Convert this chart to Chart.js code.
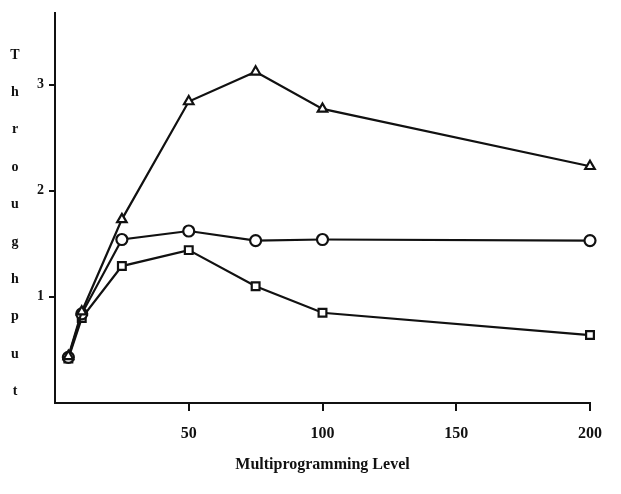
<!DOCTYPE html>
<html>
<head>
<meta charset="utf-8">
<script src="https://cdn.jsdelivr.net/npm/chart.js@4"></script>
<style>
  html, body { margin: 0; padding: 0; background: #fff; }
  #wrap { width: 621px; height: 494px; }
</style>
</head>
<body>
<div id="wrap"><canvas id="c" width="621" height="494"></canvas></div>
<script>
// ---- data ----
const levels = [5, 10, 25, 50, 75, 100, 200];
const triangleSeries = [0.44, 0.86, 1.73, 2.84, 3.12, 2.77, 2.23];
const circleSeries   = [0.43, 0.84, 1.54, 1.62, 1.53, 1.54, 1.53];
const squareSeries   = [0.42, 0.80, 1.29, 1.44, 1.10, 0.85, 0.64];
const xTicks = [50, 100, 150, 200];
const yTicks = [1, 2, 3];
const yTitleLetters = ['T','h','r','o','u','g','h','p','u','t'];
const xTitle = 'Multiprogramming Level';

const toPts = (ys) => levels.map((x, i) => ({x: x, y: ys[i]}));

const ink = '#111';
const serif = "'Liberation Serif', 'DejaVu Serif', serif";

const stackedTitle = {
  id: 'stackedTitle',
  afterDraw(chart) {
    const ctx = chart.ctx;
    ctx.save();
    ctx.fillStyle = ink;
    ctx.font = "bold 14px " + serif;
    ctx.textAlign = 'center';
    ctx.textBaseline = 'middle';
    const top = 55, step = 37.4;
    yTitleLetters.forEach((ch, i) => ctx.fillText(ch, 15, top + i * step));
    ctx.restore();
  }
};

const mk = (data, style) => ({
  data: toPts(data),
  borderColor: ink,
  borderWidth: 2.2,
  pointStyle: style,
  pointRadius: 5.5,
  pointBorderWidth: 2.2,
  pointBorderColor: ink,
  pointBackgroundColor: '#fff',
  tension: 0,
  fill: false,
  clip: false
});

new Chart(document.getElementById('c'), {
  type: 'line',
  data: {
    datasets: [
      mk(triangleSeries, 'triangle'),
      mk(circleSeries, 'circle'),
      mk(squareSeries, 'rect')
    ]
  },
  plugins: [stackedTitle],
  options: {
    responsive: false,
    animation: false,
    events: [],
    layout: { padding: { left: 0, right: 31, top: 10, bottom: 0 } },
    plugins: { legend: { display: false }, tooltip: { enabled: false } },
    scales: {
      x: {
        type: 'linear',
        min: 0, max: 200,
        afterBuildTicks: (s) => { s.ticks = xTicks.map(v => ({value: v})); },
        afterFit: (s) => { s.height = 91; },
        grid: { drawOnChartArea: false, drawTicks: true, tickLength: 8, color: ink, lineWidth: 2 },
        border: { display: true, color: ink, width: 2 },
        ticks: { color: ink, padding: 13, maxRotation: 0, font: { family: serif, size: 16, weight: 'bold' } },
        title: { display: true, text: xTitle, color: ink, padding: { top: 0, bottom: 20 },
                 font: { family: serif, size: 16, weight: 'bold' } }
      },
      y: {
        type: 'linear',
        min: 0, max: 3.67,
        afterBuildTicks: (s) => { s.ticks = yTicks.map(v => ({value: v})); },
        afterFit: (s) => { s.width = 55; },
        grid: { drawOnChartArea: false, drawTicks: true, tickLength: 6, color: ink, lineWidth: 2 },
        border: { display: true, color: ink, width: 2 },
        ticks: { color: ink, padding: 5, font: { family: serif, size: 14, weight: 'bold' } }
      }
    }
  }
});
</script>
</body>
</html>
